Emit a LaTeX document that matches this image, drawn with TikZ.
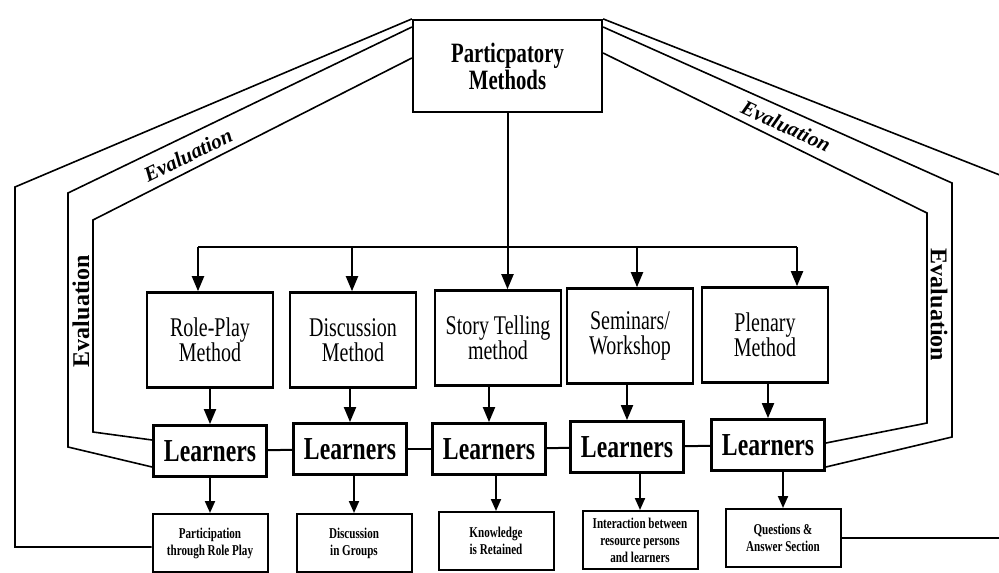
\documentclass[tikz,border=0pt]{standalone}
\usepackage{fontspec}
\setmainfont[FakeStretch=0.74]{Liberation Serif}
\newfontfamily\evalfont{Liberation Serif}
\usetikzlibrary{arrows.meta}

\begin{document}
\begin{tikzpicture}[x=0.5pt,y=-0.5pt,
	>={Triangle[width=6pt,length=7.5pt]},
	topbox/.style={draw,line width=1.1pt,minimum width=94.5pt,minimum height=46pt,align=center,font=\bfseries\fontsize{14}{13.5}\selectfont},
	method/.style={draw,line width=1.3pt,minimum width=63pt,minimum height=47.5pt,align=center,font=\fontsize{13.5}{12.5}\selectfont},
	learner/.style={draw,line width=1.4pt,minimum width=56.5pt,minimum height=25.5pt,font=\bfseries\fontsize{16}{16}\selectfont},
	outcome/.style={draw,line width=1pt,minimum width=57.5pt,minimum height=29pt,align=center,font=\bfseries\fontsize{7.5}{8.5}\selectfont},
	link/.style={line width=1pt},
	evalline/.style={line width=0.8pt,line join=miter},
	evallabel/.style={font=\evalfont\bfseries\fontsize{12}{12}\selectfont,inner sep=0pt},
	diaglabel/.style={font=\evalfont\bfseries\itshape\fontsize{10.5}{10.5}\selectfont,inner sep=0pt}]

	\useasboundingbox (0,0) rectangle (999,572);

	\node[topbox] (top) at (507.5,66) {Particpatory\\Methods};

	\node[method] (role) at (210,340) {Role-Play\\Method};
	\node[method] (disc) at (353,340) {Discussion\\Method};
	\node[method] (story) at (498,338) {Story Telling\\method};
	\node[method] (sem) at (630,336) {Seminars/\\Workshop};
	\node[method] (plen) at (765,335) {Plenary\\Method};

	\node[learner] (l1) at (210,451) {Learners};
	\node[learner] (l2) at (350,449) {Learners};
	\node[learner] (l3) at (489,449) {Learners};
	\node[learner] (l4) at (627,447) {Learners};
	\node[learner] (l5) at (768,445) {Learners};

	\node[outcome] (o1) at (210,543) {Participation\\through Role Play};
	\node[outcome] (o2) at (354,543) {Discussion\\in Groups};
	\node[outcome] (o3) at (496,541) {Knowledge\\is Retained};
	\node[outcome] (o4) at (640,540) {Interaction between\\resource persons\\and learners};
	\node[outcome] (o5) at (783,538) {Questions \&\\Answer Section};

	\coordinate (bar1) at (198,247);
	\coordinate (bar2) at (352,247);
	\coordinate (bar4) at (637,247);
	\coordinate (bar5) at (797,247);

	\draw[link] (bar1) -- (bar5);
	\draw[link,->] (top.south) -- (top.south |- story.north);
	\draw[link,->] (bar1) -- (bar1 |- role.north);
	\draw[link,->] (bar2) -- (bar2 |- disc.north);
	\draw[link,->] (bar4) -- (bar4 |- sem.north);
	\draw[link,->] (bar5) -- (bar5 |- plen.north);

	\draw[link,->] (role.south -| l1.north) -- (l1.north);
	\draw[link,->] (disc.south -| l2.north) -- (l2.north);
	\draw[link,->] (story.south -| l3.north) -- (l3.north);
	\draw[link,->] (sem.south -| l4.north) -- (l4.north);
	\draw[link,->] (plen.south -| l5.north) -- (l5.north);

	\draw[link] (l1) -- (l2);
	\draw[link] (l2) -- (l3);
	\draw[link] (l3) -- (l4);
	\draw[link] (l4) -- (l5);

	\draw[link,->,>={Triangle[width=5pt,length=6pt]}] (l1.south -| o1.north) -- (o1.north);
	\draw[link,->,>={Triangle[width=5pt,length=6pt]}] (l2.south -| o2.north) -- (o2.north);
	\draw[link,->,>={Triangle[width=5pt,length=6pt]}] (l3.south -| o3.north) -- (o3.north);
	\draw[link,->,>={Triangle[width=5pt,length=6pt]}] (l4.south -| o4.north) -- (o4.north);
	\draw[link,->,>={Triangle[width=5pt,length=6pt]}] (l5.south -| o5.north) -- (o5.north);

	\draw[evalline] (top.north west) -- (15,187) -- (15,547) -- (o1.west |- 0,547);
	\draw[evalline] (top.west |- 0,27) -- (68,193) -- (68,447) -- (l1.west |- 0,467);
	\draw[evalline] (top.west |- 0,58) -- (93,220) -- (93,432) -- (l1.west |- 0,440);
	\draw[evalline] (top.north east) -- (1015,181) -- (1015,538) -- (o5.east);
	\draw[evalline] (top.east |- 0,27) -- (952,183) -- (952,437) -- (l5.east |- 0,467);
	\draw[evalline] (top.east |- 0,53) -- (927,213) -- (927,423) -- (l5.east |- 0,443);

	\node[diaglabel,rotate=26] (evtl) at (188,155) {Evaluation};
	\node[diaglabel,rotate=-25] (evtr) at (786,126) {Evaluation};
	\node[evallabel,rotate=90] (evl) at (81,311) {Evaluation};
	\node[evallabel,rotate=-90] (evr) at (939,305) {Evaluation};
\end{tikzpicture}
\end{document}
